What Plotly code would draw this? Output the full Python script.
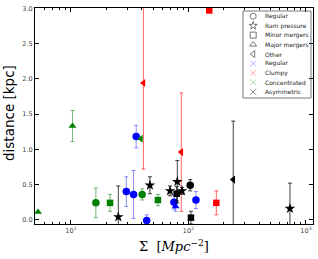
import plotly.graph_objects as go

# ---- data ----
sigma = [5.24, 10.3, 16.3, 21.5, 25.3, 29.6, 34.1, 35.9, 39.4, 41.4, 40.4, 44.1, 47.0, 55.0,
         69.7, 80.4, 79.4, 88.1, 75.3, 77.8, 86.9, 103.5, 105.0, 115.8, 172.6, 240.5, 150.3, 731.0]
dist = [0.11, 1.33, 0.24, 0.24, 0.04, 0.40, 0.36, 1.18, 1.15, 1.94, 0.36, -0.01, 0.49, 0.28,
        0.41, 0.54, 0.37, 0.41, 0.25, 0.19, 0.96, 0.49, 0.03, 0.28, 0.24, 0.57, 2.97, 0.16]
dist_err = [0.0, 0.22, 0.21, 0.12, 0.44, 0.21, 0.34, 0.16, 0.0, 1.22, 0.08, 0.08, 0.12, 0.08,
            0.07, 0.30, 0.10, 0.05, 0.10, 0.07, 0.84, 0.08, 0.09, 0.12, 0.17, 0.83, 0.0, 0.36]
morph = ["Major mergers", "Major mergers", "Regular", "Minor mergers", "Ram pressure", "Regular",
         "Regular", "Regular", "Other", "Other", "Regular", "Regular", "Ram pressure", "Minor mergers",
         "Ram pressure", "Ram pressure", "Minor mergers", "Ram pressure", "Regular", "Major mergers",
         "Other", "Regular", "Minor mergers", "Regular", "Minor mergers", "Other", "Minor mergers",
         "Ram pressure"]
klass = ["Concentrated", "Concentrated", "Concentrated", "Concentrated", "Asymmetric", "Regular",
         "Regular", "Regular", "Concentrated", "Clumpy", "Concentrated", "Regular", "Asymmetric",
         "Concentrated", "Asymmetric", "Asymmetric", "Asymmetric", "Asymmetric", "Regular", "Regular",
         "Clumpy", "Asymmetric", "Asymmetric", "Regular", "Clumpy", "Asymmetric", "Clumpy",
         "Asymmetric"]

morph_labels = ["Regular", "Ram pressure", "Minor mergers", "Major mergers", "Other"]
class_labels = ["Regular", "Clumpy", "Concentrated", "Asymmetric"]
y_ticks = [0.0, 0.5, 1.0, 1.5, 2.0, 2.5, 3.0]
x_ticks = [10, 100, 1000]
x_ticktext = ["10<sup>1</sup>", "10<sup>2</sup>", "10<sup>3</sup>"]
x_minor = [6, 7, 8, 9, 20, 30, 40, 50, 60, 70, 80, 90, 200, 300, 400, 500, 600, 700, 800, 900]

# ---- styles ----
symbols = {"Regular": "circle", "Ram pressure": "star", "Minor mergers": "square",
           "Major mergers": "triangle-up", "Other": "triangle-left"}
open_symbols = {"Regular": "circle-open", "Ram pressure": "star-open", "Minor mergers": "square-open",
                "Major mergers": "triangle-up-open", "Other": "triangle-left-open"}
sizes = {"Regular": 7.5, "Ram pressure": 8, "Minor mergers": 6.5, "Major mergers": 7, "Other": 7}
colors = {"Regular": "#0000ff", "Clumpy": "#ff0000", "Concentrated": "#008000", "Asymmetric": "#000000"}
ecolors = {"Regular": "rgba(0,0,255,0.45)", "Clumpy": "rgba(255,0,0,0.6)",
           "Concentrated": "rgba(0,128,0,0.55)", "Asymmetric": "rgba(0,0,0,0.75)"}
lcolors = {"Regular": "rgba(0,0,255,0.4)", "Clumpy": "rgba(255,0,0,0.4)",
           "Concentrated": "rgba(0,128,0,0.4)", "Asymmetric": "rgba(0,0,0,0.6)"}

fig = go.Figure()

for c in class_labels:
    for m in morph_labels:
        idx = [i for i in range(len(sigma)) if morph[i] == m and klass[i] == c]
        if not idx:
            continue
        fig.add_trace(go.Scatter(
            x=[sigma[i] for i in idx], y=[dist[i] for i in idx], mode="markers",
            marker=dict(symbol=symbols[m], size=sizes[m], color=colors[c], line=dict(width=0)),
            error_y=dict(type="data", array=[dist_err[i] for i in idx], visible=True,
                         color=ecolors[c], thickness=1, width=2),
            showlegend=False, hoverinfo="skip"))

# ---- custom compact legend ----
leg_labels = morph_labels + class_labels
leg_syms = [open_symbols[m] for m in morph_labels] + ["x-thin-open"] * len(class_labels)
leg_cols = ["#555555"] * len(morph_labels) + [lcolors[c] for c in class_labels]
rows = list(range(len(leg_labels)))
fig.add_trace(go.Scatter(
    x=[0.15] * len(rows), y=rows, mode="markers", xaxis="x2", yaxis="y2",
    marker=dict(symbol=leg_syms, size=6, color=leg_cols, line=dict(width=0.8, color=leg_cols)),
    showlegend=False, hoverinfo="skip", cliponaxis=False))

W, H = 318, 259
ml, mr, mt, mb = 35, 5, 8, 35
pw, ph = W - ml - mr, H - mt - mb
lx0, lx1, ly0, ly1 = 243, 311, 11, 98
dom_x = [(lx0 - ml) / pw, (lx1 - ml) / pw]
dom_y = [(H - mb - ly1) / ph, (H - mb - ly0) / ph]

annotations = []
for r, lab in zip(rows, leg_labels):
    annotations.append(dict(x=0.29, y=r, xref="x2", yref="y2", text=lab, showarrow=False,
                            xanchor="left", yanchor="middle",
                            font=dict(family="DejaVu Sans", size=6, color="#222222")))
annotations.append(dict(x=0, y=0.5, xref="paper", yref="paper", xshift=-26, yshift=3,
                        text="distance [kpc]",
                        textangle=-90, showarrow=False, xanchor="center", yanchor="middle",
                        font=dict(family="DejaVu Sans", size=13.5, color="#000000")))
annotations.append(dict(x=0.5, y=0, xref="paper", yref="paper", yshift=-22,
                        text="Σ  [<i>Mpc</i><sup>−2</sup>]", showarrow=False,
                        xanchor="center", yanchor="middle",
                        font=dict(family="DejaVu Serif", size=13, color="#000000")))

axis_common = dict(ticks="inside", ticklen=4, tickwidth=0.8, tickcolor="#000", mirror="allticks",
                   showline=True, linecolor="#000", linewidth=1, showgrid=False, zeroline=False,
                   tickfont=dict(family="DejaVu Sans", size=6.5, color="#444"))

fig.update_layout(
    width=W, height=H, margin=dict(l=ml, r=mr, t=mt, b=mb),
    plot_bgcolor="rgba(0,0,0,0)", paper_bgcolor="white",
    xaxis=dict(type="log", range=[0.694, 3.06], tickvals=x_ticks, ticktext=x_ticktext,
               minor=dict(tickmode="array", tickvals=x_minor, ticks="inside", ticklen=2,
                          tickwidth=0.6, tickcolor="#000", showgrid=False),
               **axis_common),
    yaxis=dict(range=[-0.06, 3.005], tickvals=y_ticks, ticktext=["%.1f" % v for v in y_ticks],
               **axis_common),
    xaxis2=dict(domain=dom_x, range=[0, 1], visible=False, anchor="y2", fixedrange=True),
    yaxis2=dict(domain=dom_y, range=[8.65, -0.55], visible=False, anchor="x2", fixedrange=True),
    shapes=[dict(type="rect", xref="paper", yref="paper", x0=dom_x[0], x1=dom_x[1],
                 y0=dom_y[0], y1=dom_y[1], line=dict(color="#555555", width=0.8),
                 fillcolor="rgba(0,0,0,0)", layer="above")],
    annotations=annotations,
)

fig.write_html("out.html", config={"displayModeBar": False},
               post_script="document.body.style.margin='0px';")
